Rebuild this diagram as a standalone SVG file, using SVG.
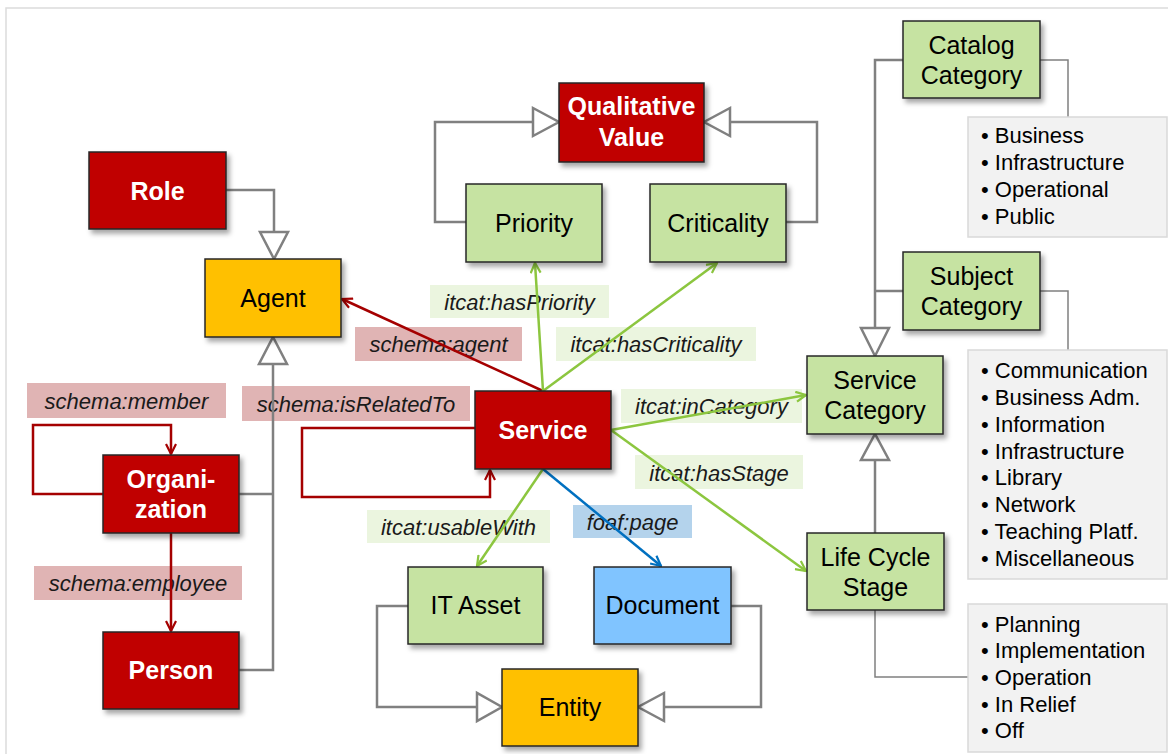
<svg xmlns="http://www.w3.org/2000/svg" width="1168" height="754" viewBox="0 0 1168 754">
<style>
.node rect{stroke:#262626;stroke-width:1.5;filter:url(#sh)}
.red rect{fill:#c00000}
.grn rect{fill:#c6e3a2}
.yel rect{fill:#ffc000}
.blu rect{fill:#80c4ff}
.node text{font-family:"Liberation Sans",Arial,sans-serif;font-size:25px;text-anchor:middle;fill:#000}
.red text{fill:#fff;font-weight:bold}
.lbl text{font-family:"Liberation Sans",Arial,sans-serif;font-size:22px;font-style:italic;text-anchor:middle;fill:#1a1a1a}
.lp{fill:#e0b4b4}
.lg{fill:#ebf5df}
.lb{fill:#b4d3ec}
.list rect{fill:#f2f2f2;stroke:#d9d9d9;stroke-width:1.5}
.list text{font-family:"Liberation Sans",Arial,sans-serif;font-size:22px;fill:#000}
.inh{fill:none;stroke:#808080;stroke-width:2.5}
.tri{fill:#fff;stroke:#808080;stroke-width:2.5}
.thin{fill:none;stroke:#808080;stroke-width:1.5}
.r{fill:none;stroke:#a50000;stroke-width:2.5;marker-end:url(#ar)}
.g{fill:none;stroke:#8cc63f;stroke-width:2.5;marker-end:url(#ag)}
.b{fill:none;stroke:#0070c0;stroke-width:2.5;marker-end:url(#ab)}
</style>
<defs>
<filter id="sh" x="-10%" y="-10%" width="130%" height="140%">
<feDropShadow dx="3" dy="4" stdDeviation="2.5" flood-color="#000" flood-opacity="0.35"/>
</filter>
<marker id="ar" viewBox="0 0 12 12" refX="11" refY="6" markerWidth="12" markerHeight="12" markerUnits="userSpaceOnUse" orient="auto"><path d="M1,1 L11,6 L1,11" fill="none" stroke="#a50000" stroke-width="2.2"/></marker>
<marker id="ag" viewBox="0 0 12 12" refX="11" refY="6" markerWidth="12" markerHeight="12" markerUnits="userSpaceOnUse" orient="auto"><path d="M1,1 L11,6 L1,11" fill="none" stroke="#8cc63f" stroke-width="2.2"/></marker>
<marker id="ab" viewBox="0 0 12 12" refX="11" refY="6" markerWidth="12" markerHeight="12" markerUnits="userSpaceOnUse" orient="auto"><path d="M1,1 L11,6 L1,11" fill="none" stroke="#0070c0" stroke-width="2.2"/></marker>
</defs>
<rect x="0" y="0" width="1168" height="754" fill="#fff"/>
<rect x="6" y="8" width="1170" height="760" fill="none" stroke="#dcdcdc" stroke-width="1.5"/>

<g id="labels" class="lbl">
<rect class="lp" x="27" y="383" width="199" height="35"/><text x="126.5" y="409">schema:member</text>
<rect class="lp" x="242" y="386" width="228" height="35"/><text x="356" y="412">schema:isRelatedTo</text>
<rect class="lp" x="34" y="566" width="208" height="34"/><text x="138" y="591">schema:employee</text>
<rect class="lp" x="355" y="327" width="167" height="34"/><text x="438.5" y="352">schema:agent</text>
<rect class="lg" x="430" y="285" width="179" height="33"/><text x="519.5" y="310">itcat:hasPriority</text>
<rect class="lg" x="556" y="327" width="200" height="34"/><text x="656" y="352">itcat:hasCriticality</text>
<rect class="lg" x="621" y="389" width="181" height="34"/><text x="711.5" y="414">itcat:inCategory</text>
<rect class="lg" x="635" y="455" width="168" height="34"/><text x="719" y="481">itcat:hasStage</text>
<rect class="lg" x="367" y="510" width="183" height="33"/><text x="458.5" y="535">itcat:usableWith</text>
<rect class="lb" x="573" y="505" width="119" height="33"/><text x="632.5" y="530">foaf:page</text>
</g>

<g id="connectors">
<path class="inh" d="M226,190 H274 V232"/>
<polygon class="tri" points="260,232 288,232 274,259"/>
<path class="inh" d="M239,494 H273 M239,670 H273 V364"/>
<polygon class="tri" points="259,364 287,364 273,337"/>
<path class="inh" d="M466,222 H435 V122 H533"/>
<polygon class="tri" points="533,108 533,136 559,122"/>
<path class="inh" d="M786,222 H817 V122 H730"/>
<polygon class="tri" points="730,108 730,136 704,122"/>
<path class="inh" d="M903,60 H875 V328 M903,291 H875"/>
<polygon class="tri" points="861,328 889,328 875,356"/>
<path class="inh" d="M875,533 V460"/>
<polygon class="tri" points="861,460 889,460 875,434"/>
<path class="inh" d="M408,606 H377 V707 H477"/>
<polygon class="tri" points="477,693 477,721 502,707"/>
<path class="inh" d="M731,606 H761 V707 H664"/>
<polygon class="tri" points="664,693 664,721 638,707"/>
<path class="thin" d="M1040,60 H1068 V117"/>
<path class="thin" d="M1040,291 H1068 V350"/>
<path class="thin" d="M875,610 V677 H968"/>
<path class="r" d="M543,391 L342,299"/>
<path class="r" d="M103,494 H33 V425 H171 V454"/>
<path class="r" d="M171,533 V631"/>
<path class="r" d="M475,428 H302 V497 H490 V470"/>
<path class="g" d="M543,391 L535,263"/>
<path class="g" d="M543,391 L717,263"/>
<path class="g" d="M611,430 L806,395"/>
<path class="g" d="M611,430 L806,571"/>
<path class="g" d="M543,469 L477,566"/>
<path class="b" d="M543,469 L661,566"/>
</g>

<g id="role" class="node red"><rect x="89" y="152" width="137" height="77"/><text x="157.5" y="199.5">Role</text></g>
<g id="agent" class="node yel"><rect x="205" y="259" width="136" height="78"/><text x="273" y="307">Agent</text></g>
<g id="qualitative-value" class="node red"><rect x="559" y="83" width="145" height="79"/><text x="631.5" y="115">Qualitative</text><text x="631.5" y="145.5">Value</text></g>
<g id="priority" class="node grn"><rect x="466" y="184" width="136" height="78"/><text x="534" y="232">Priority</text></g>
<g id="criticality" class="node grn"><rect x="650" y="184" width="136" height="78"/><text x="718" y="232">Criticality</text></g>
<g id="catalog-category" class="node grn"><rect x="903" y="21" width="137" height="77"/><text x="971.5" y="54">Catalog</text><text x="971.5" y="84">Category</text></g>
<g id="subject-category" class="node grn"><rect x="903" y="252" width="137" height="78"/><text x="971.5" y="285">Subject</text><text x="971.5" y="315">Category</text></g>
<g id="service-category" class="node grn"><rect x="807" y="356" width="136" height="78"/><text x="875" y="389">Service</text><text x="875" y="419">Category</text></g>
<g id="life-cycle-stage" class="node grn"><rect x="807" y="533" width="137" height="77"/><text x="875.5" y="566">Life Cycle</text><text x="875.5" y="596">Stage</text></g>
<g id="organization" class="node red"><rect x="103" y="455" width="136" height="78"/><text x="171" y="488">Organi-</text><text x="171" y="518">zation</text></g>
<g id="person" class="node red"><rect x="103" y="632" width="136" height="77"/><text x="171" y="679">Person</text></g>
<g id="service" class="node red"><rect x="475" y="391" width="136" height="78"/><text x="543" y="439">Service</text></g>
<g id="it-asset" class="node grn"><rect x="408" y="567" width="135" height="77"/><text x="475.5" y="614">IT Asset</text></g>
<g id="document" class="node blu"><rect x="594" y="567" width="137" height="77"/><text x="662.5" y="614">Document</text></g>
<g id="entity" class="node yel"><rect x="502" y="669" width="136" height="77"/><text x="570" y="716">Entity</text></g>

<g id="catalog-list" class="list"><rect x="968" y="117" width="199" height="120"/>
<text x="981" y="143">• Business</text><text x="981" y="170">• Infrastructure</text><text x="981" y="197">• Operational</text><text x="981" y="224">• Public</text></g>
<g id="subject-list" class="list"><rect x="968" y="350" width="199" height="229"/>
<text x="981" y="378">• Communication</text><text x="981" y="405">• Business Adm.</text><text x="981" y="432">• Information</text><text x="981" y="459">• Infrastructure</text><text x="981" y="485">• Library</text><text x="981" y="512">• Network</text><text x="981" y="539">• Teaching Platf.</text><text x="981" y="566">• Miscellaneous</text></g>
<g id="stage-list" class="list"><rect x="968" y="604" width="199" height="148"/>
<text x="981" y="632">• Planning</text><text x="981" y="658">• Implementation</text><text x="981" y="685">• Operation</text><text x="981" y="712">• In Relief</text><text x="981" y="738">• Off</text></g>
</svg>
